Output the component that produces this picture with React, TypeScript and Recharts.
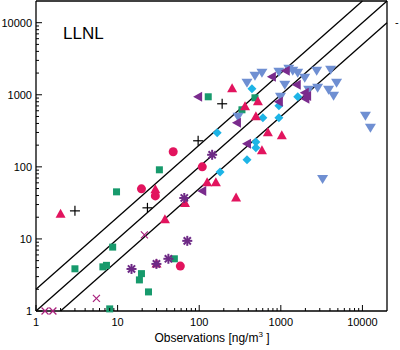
import { ScatterChart, Scatter, XAxis, YAxis, ReferenceLine } from "recharts"

const trianglesUp = [
  [2, 22], [29, 48], [67, 31], [38, 18.5], [30, 4.5], [125, 60], [160, 60], [283, 37],
  [253, 1210], [364, 680], [524, 800], [495, 495], [694, 297], [1028, 270], [587, 167],
]
const circles = [[48, 162], [19.6, 49.5], [29, 39.5], [58.7, 4.2], [109, 100]]
const pluses = [[3, 24.5], [23.2, 27], [97, 230], [191, 750]]
const squares = [
  [9.7, 45], [32.5, 91], [3, 3.85], [8.7, 7.7], [6.6, 4.1], [7.3, 4.3], [19.6, 3.3],
  [18.5, 2.7], [23.9, 1.84], [8, 1.07], [49.6, 5.3], [129, 938], [482, 908], [334, 619],
]
const diamonds = [
  [443, 1210], [166, 297], [603, 480], [946, 703], [946, 480], [1611, 938],
  [495, 222], [495, 184], [385, 125], [180, 85],
]
const trianglesLeft = [
  [97, 938], [777, 1778], [1150, 2154], [1567, 1376], [946, 800], [1963, 1066],
  [2000, 880], [2100, 960], [290, 408], [385, 209], [109, 46.4],
]
const asterisks = [[144, 147], [65.6, 37], [71.4, 9.4], [14.8, 3.83], [41.9, 5.3], [29.9, 4.5]]
const crosses = [[21.3, 11.4], [5.5, 1.5], [1.29, 1], [1.61, 1]]
const trianglesDown = [
  [385, 1468], [482, 1836], [587, 2022], [946, 2086], [1253, 2297], [1400, 2154],
  [1611, 2022], [1963, 1722], [2749, 2154], [4074, 2225], [1119, 1376], [4820, 1468],
  [2826, 1250], [3849, 1173], [4430, 969], [2195, 1173], [990, 938], [299, 495],
  [10880, 511], [12530, 348], [3250, 68],
]

// 1:1 line and factor-of-two lines
const oneToOne = [{ x: 1, y: 1 }, { x: 20000, y: 20000 }]
const twoTimes = [{ x: 1, y: 2 }, { x: 10000, y: 20000 }]
const halfTimes = [{ x: 2, y: 1 }, { x: 20000, y: 10000 }]

const domain = [1, 20000]
const majorTicks = [1, 10, 100, 1000, 10000]
const allTicks = majorTicks.flatMap(m => (m === 10000 ? [m] : [1, 2, 3, 4, 5, 6, 7, 8, 9].map(k => k * m)))

const toPts = (arr: number[][]) => arr.map(([x, y]) => ({ x, y }))

const TriUp = ({ cx, cy }: any) => <path d={`M${cx},${cy - 5.5} L${cx + 5},${cy + 3.5} L${cx - 5},${cy + 3.5}Z`} fill="#e2145e" />
const TriDown = ({ cx, cy }: any) => <path d={`M${cx - 5.5},${cy - 4} L${cx + 5.5},${cy - 4} L${cx},${cy + 5}Z`} fill="#6f8fd2" />
const TriLeft = ({ cx, cy }: any) => <path d={`M${cx - 5},${cy} L${cx + 4},${cy - 5} L${cx + 4},${cy + 5}Z`} fill="#7a2b8d" />
const Circ = ({ cx, cy }: any) => <circle cx={cx} cy={cy} r={4.5} fill="#e2145e" />
const Sq = ({ cx, cy }: any) => <rect x={cx - 3.5} y={cy - 3.5} width={7} height={7} fill="#179a6c" />
const Dia = ({ cx, cy }: any) => <path d={`M${cx},${cy - 4.5} L${cx + 4.5},${cy} L${cx},${cy + 4.5} L${cx - 4.5},${cy}Z`} fill="#1db4e6" />
const Plus = ({ cx, cy }: any) => (
  <g stroke="#000" strokeWidth={1.2}>
    <line x1={cx - 5} x2={cx + 5} y1={cy} y2={cy} />
    <line x1={cx} x2={cx} y1={cy - 5} y2={cy + 5} />
  </g>
)
const Cross = ({ cx, cy }: any) => (
  <g stroke="#a8207c" strokeWidth={1.2}>
    <line x1={cx - 3.5} x2={cx + 3.5} y1={cy - 3.5} y2={cy + 3.5} />
    <line x1={cx - 3.5} x2={cx + 3.5} y1={cy + 3.5} y2={cy - 3.5} />
  </g>
)
const Star = ({ cx, cy }: any) => (
  <g stroke="#6e2a86" strokeWidth={2}>
    <line x1={cx - 5} x2={cx + 5} y1={cy} y2={cy} />
    <line x1={cx} x2={cx} y1={cy - 5} y2={cy + 5} />
    <line x1={cx - 3.6} x2={cx + 3.6} y1={cy - 3.6} y2={cy + 3.6} />
    <line x1={cx - 3.6} x2={cx + 3.6} y1={cy + 3.6} y2={cy - 3.6} />
  </g>
)

const len = (v: number) => (majorTicks.includes(v) ? 6 : 3)

const BottomTick = ({ x, y, payload }: any) => (
  <g>
    <line x1={x} x2={x} y1={y} y2={y - len(payload.value)} stroke="#000" />
    {majorTicks.includes(payload.value) && (
      <text x={x} y={y + 15} textAnchor="middle" fontSize={11} fill="#000">{payload.value}</text>
    )}
  </g>
)
const TopTick = ({ x, y, payload }: any) => <line x1={x} x2={x} y1={y} y2={y + len(payload.value)} stroke="#000" />
const LeftTick = ({ x, y, payload }: any) => (
  <g>
    <line x1={x} x2={x + len(payload.value)} y1={y} y2={y} stroke="#000" />
    {majorTicks.includes(payload.value) && (
      <text x={x - 4} y={y + 4} textAnchor="end" fontSize={11} fill="#000">{payload.value}</text>
    )}
  </g>
)
const RightTick = ({ x, y, payload }: any) => <line x1={x} x2={x - len(payload.value)} y1={y} y2={y} stroke="#000" />

const axisProps = {
  type: "number" as const,
  scale: "log" as const,
  domain,
  ticks: allTicks,
  interval: 0,
  tickSize: 0,
  tickMargin: 0,
  tickLine: false,
  axisLine: { stroke: "#000", strokeWidth: 1.3 },
}

export default function App() {
  return (
    <div style={{ position: "absolute", left: 0, top: 0, width: 400, height: 350, background: "#fff", fontFamily: "'Liberation Sans', Arial, sans-serif" }}>
      <ScatterChart width={400} height={350} margin={{ top: 0, right: 12, bottom: 38, left: 35 }}>
        <XAxis dataKey="x" {...axisProps} height={1} tick={BottomTick} />
        <XAxis xAxisId="top" orientation="top" {...axisProps} height={1} tick={TopTick} />
        <YAxis dataKey="y" {...axisProps} width={1} tick={LeftTick} />
        <YAxis yAxisId="right" orientation="right" {...axisProps} width={1} tick={RightTick} />
        <ReferenceLine segment={twoTimes} stroke="#000" strokeWidth={1.3} />
        <ReferenceLine segment={oneToOne} stroke="#000" strokeWidth={1.3} />
        <ReferenceLine segment={halfTimes} stroke="#000" strokeWidth={1.3} />
        <Scatter data={toPts(squares)} shape={Sq} isAnimationActive={false} />
        <Scatter data={toPts(circles)} shape={Circ} isAnimationActive={false} />
        <Scatter data={toPts(diamonds)} shape={Dia} isAnimationActive={false} />
        <Scatter data={toPts(trianglesDown)} shape={TriDown} isAnimationActive={false} />
        <Scatter data={toPts(trianglesUp)} shape={TriUp} isAnimationActive={false} />
        <Scatter data={toPts(trianglesLeft)} shape={TriLeft} isAnimationActive={false} />
        <Scatter data={toPts(asterisks)} shape={Star} isAnimationActive={false} />
        <Scatter data={toPts(crosses)} shape={Cross} isAnimationActive={false} />
        <Scatter data={toPts(pluses)} shape={Plus} isAnimationActive={false} />
        <text x={63} y={39} fontSize={17} fill="#000">LLNL</text>
        <text x={212} y={342} textAnchor="middle" fontSize={12} fill="#000">
          Observations [ng/m<tspan dy={-5} fontSize={8}>3</tspan><tspan dy={5}> ]</tspan>
        </text>
        <text x={395} y={26} fontSize={11} fill="#000">-</text>
      </ScatterChart>
    </div>
  )
}
